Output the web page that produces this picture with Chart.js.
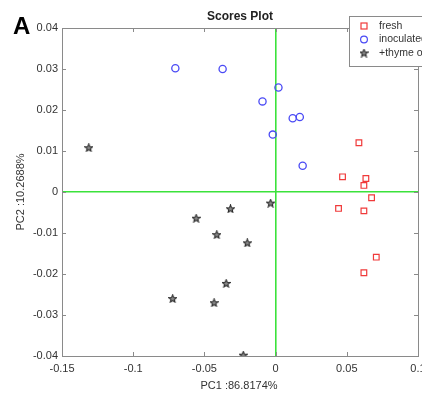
<!DOCTYPE html>
<html>
<head>
<meta charset="utf-8">
<script src="https://cdn.jsdelivr.net/npm/chart.js@4.4.1/dist/chart.umd.min.js"></script>
<style>
  html, body { margin: 0; padding: 0; background: #fff; overflow: hidden; }
  #wrap { width: 422px; height: 394px; overflow: hidden; }
</style>
</head>
<body>
<div id="wrap"><canvas id="myChart" width="440" height="394"></canvas></div>
<script>
// scores
const freshX = [0.0585, 0.047, 0.0634, 0.062, 0.0674, 0.0442, 0.062, 0.0707, 0.062];
const freshY = [0.012, 0.0037, 0.0033, 0.0016, -0.0014, -0.0040, -0.0046, -0.0159, -0.0197];
const inocX = [-0.0704, -0.0372, 0.002, -0.0092, 0.012, 0.017, -0.002, 0.019];
const inocY = [0.0302, 0.0300, 0.0255, 0.0221, 0.0180, 0.0183, 0.0140, 0.0064];
const thymeX = [-0.1312, -0.0035, -0.0317, -0.0558, -0.0413, -0.0199, -0.0347, -0.0723, -0.0432, -0.0227];
const thymeY = [0.0108, -0.0027, -0.0041, -0.0064, -0.0104, -0.0124, -0.0223, -0.0260, -0.0270, -0.0398];
const seriesNames = ['fresh', 'inoculated', '+thyme oil'];
const xTicks = [-0.15, -0.1, -0.05, 0, 0.05, 0.1];
const yTicks = [-0.04, -0.03, -0.02, -0.01, 0, 0.01, 0.02, 0.03, 0.04];

const toPoints = (xs, ys) => xs.map((x, i) => ({ x: x, y: ys[i] }));
const fmt = (v) => String(parseFloat(Number(v).toFixed(3)));

// filled pentagram marker like matlab 'p'
const makeStar = () => {
    const c = document.createElement('canvas');
    c.width = 9; c.height = 9;
    const g = c.getContext('2d');
    g.beginPath();
    for (let i = 0; i < 10; i++) {
        const r = i % 2 === 0 ? 4 : 1.8;
        const a = -Math.PI / 2 + i * Math.PI / 5;
        const px = 4.5 + r * Math.cos(a), py = 4.8 + r * Math.sin(a);
        if (i === 0) g.moveTo(px, py); else g.lineTo(px, py);
    }
    g.closePath();
    g.fillStyle = '#888';
    g.fill();
    g.strokeStyle = '#2a2a2a';
    g.lineWidth = 1.1;
    g.stroke();
    return c;
};
const starImg = makeStar();

const font = 'Liberation Sans, Arial, sans-serif';

const decorations = {
    id: 'decorations',
    afterDraw(chart) {
        const ctx = chart.ctx;
        const a = chart.chartArea;
        const xs = chart.scales.x, ys = chart.scales.y;
        ctx.save();
        // box
        ctx.strokeStyle = '#8a8a8a';
        ctx.lineWidth = 1;
        ctx.strokeRect(a.left + 0.5, a.top + 0.5, a.right - a.left, a.bottom - a.top);
        // inward ticks on all sides
        ctx.beginPath();
        xTicks.forEach((t) => {
            const px = Math.round(xs.getPixelForValue(t)) + 0.5;
            ctx.moveTo(px, a.bottom); ctx.lineTo(px, a.bottom - 4);
            ctx.moveTo(px, a.top); ctx.lineTo(px, a.top + 4);
        });
        yTicks.forEach((t) => {
            const py = Math.round(ys.getPixelForValue(t)) + 0.5;
            ctx.moveTo(a.left, py); ctx.lineTo(a.left + 4, py);
            ctx.moveTo(a.right, py); ctx.lineTo(a.right - 4, py);
        });
        ctx.stroke();

        // title and panel letter
        ctx.fillStyle = '#222';
        ctx.textAlign = 'center';
        ctx.textBaseline = 'middle';
        ctx.font = 'bold 12px ' + font;
        ctx.fillText('Scores Plot', (a.left + a.right) / 2, 17);
        ctx.fillStyle = '#000';
        ctx.textAlign = 'left';
        ctx.textBaseline = 'alphabetic';
        ctx.font = 'bold 24px ' + font;
        ctx.fillText('A', 13, 34);

        // axis titles
        ctx.fillStyle = '#333';
        ctx.font = '11px ' + font;
        ctx.textAlign = 'center';
        ctx.textBaseline = 'middle';
        ctx.fillText('PC1 :86.8174%', (a.left + a.right) / 2 - 1, 386);
        ctx.save();
        ctx.translate(21, (a.top + a.bottom) / 2);
        ctx.rotate(-Math.PI / 2);
        ctx.fillText('PC2 :10.2688%', 0, 0);
        ctx.restore();

        // legend box
        const lx = 349, ly = 16, lw = 100, lh = 50;
        ctx.fillStyle = '#fff';
        ctx.fillRect(lx, ly, lw, lh);
        ctx.strokeStyle = '#8a8a8a';
        ctx.strokeRect(lx + 0.5, ly + 0.5, lw, lh);
        ctx.font = '10.5px ' + font;
        ctx.textAlign = 'left';
        chart.data.datasets.forEach((ds, i) => {
            const cy = ly + 10 + i * 13.5;
            const mx = 364;
            ctx.lineWidth = 1.2;
            ctx.strokeStyle = ds.borderColor;
            if (ds.pointStyle === 'rect') {
                ctx.strokeRect(mx - 3, cy - 3, 6, 6);
            } else if (ds.pointStyle === 'circle') {
                ctx.beginPath();
                ctx.arc(mx, cy, 3.4, 0, Math.PI * 2);
                ctx.stroke();
            } else {
                ctx.drawImage(starImg, mx - 4.5, cy - 4.5, 9, 9);
            }
            ctx.fillStyle = '#333';
            ctx.fillText(ds.label, 379, cy);
        });
        ctx.restore();
    },
};

new Chart(document.getElementById('myChart'), {
    type: 'scatter',
    data: {
        datasets: [
            {
                label: seriesNames[0],
                data: toPoints(freshX, freshY),
                pointStyle: 'rect',
                pointRadius: 4,
                borderColor: '#f03a3a',
                backgroundColor: 'rgba(0,0,0,0)',
                borderWidth: 1.2,
            },
            {
                label: seriesNames[1],
                data: toPoints(inocX, inocY),
                pointStyle: 'circle',
                pointRadius: 3.6,
                borderColor: '#4a4af5',
                backgroundColor: 'rgba(0,0,0,0)',
                borderWidth: 1.3,
            },
            {
                label: seriesNames[2],
                data: toPoints(thymeX, thymeY),
                pointStyle: starImg,
                borderColor: '#2a2a2a',
                backgroundColor: '#888',
            },
        ],
    },
    options: {
        responsive: false,
        animation: false,
        layout: { padding: { top: 28, right: 22, left: 0, bottom: 0 } },
        plugins: {
            legend: { display: false },
            title: { display: false },
            tooltip: { enabled: false },
        },
        scales: {
            x: {
                type: 'linear',
                min: -0.15,
                max: 0.1,
                afterBuildTicks: (scale) => { scale.ticks = xTicks.map((v) => ({ value: v })); },
                afterFit: (scale) => { scale.height = 38; },
                ticks: {
                    callback: (v) => fmt(v),
                    color: '#333',
                    font: { family: font, size: 11 },
                    padding: 6,
                    maxRotation: 0,
                },
                grid: {
                    drawTicks: false,
                    lineWidth: 1.6,
                    color: (c) => (c.tick && Math.abs(c.tick.value) < 1e-9 ? '#3be23b' : 'rgba(0,0,0,0)'),
                },
                border: { display: false },
            },
            y: {
                type: 'linear',
                min: -0.04,
                max: 0.04,
                afterBuildTicks: (scale) => { scale.ticks = yTicks.map((v) => ({ value: v })); },
                afterFit: (scale) => { scale.width = 62; },
                ticks: {
                    callback: (v) => fmt(v),
                    color: '#333',
                    font: { family: font, size: 11 },
                    padding: 4,
                },
                grid: {
                    drawTicks: false,
                    lineWidth: 1.6,
                    color: (c) => (c.tick && Math.abs(c.tick.value) < 1e-9 ? '#3be23b' : 'rgba(0,0,0,0)'),
                },
                border: { display: false },
            },
        },
    },
    plugins: [decorations],
});
</script>
</body>
</html>
